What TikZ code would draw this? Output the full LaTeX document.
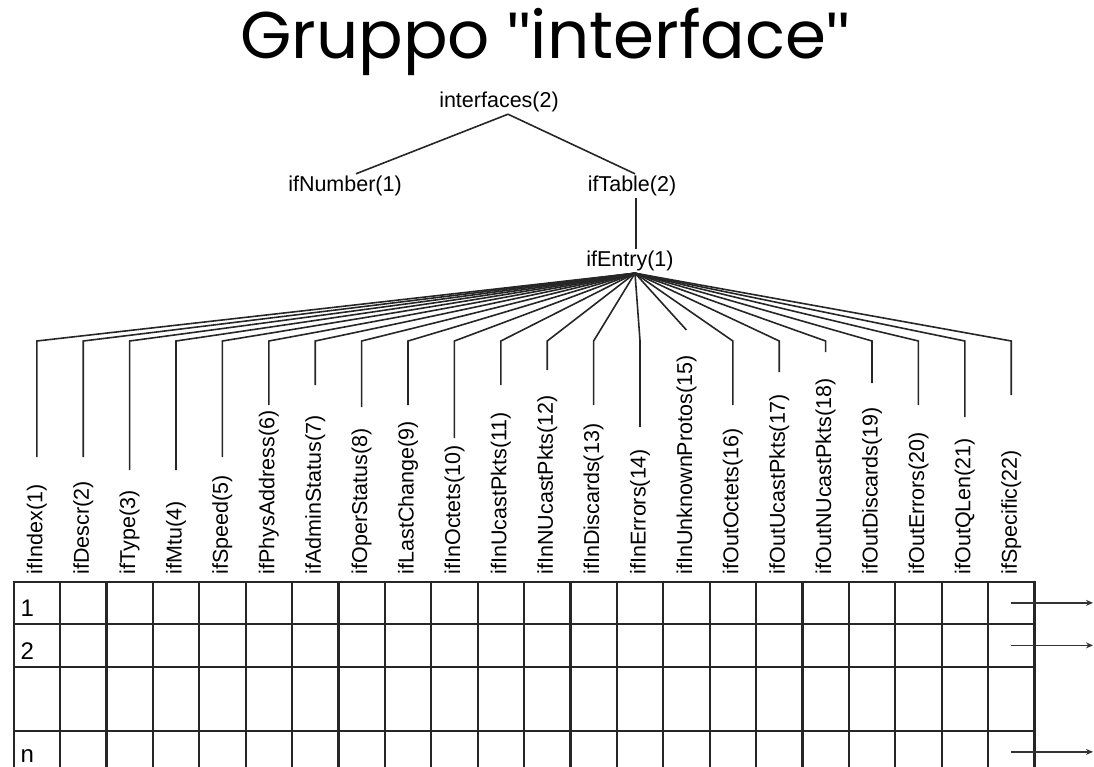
\documentclass[tikz,border=0pt]{standalone}
\usepackage{fontspec}
\setmainfont{Poppins}
\newfontfamily\lblfont{Liberation Sans}
\usetikzlibrary{matrix,arrows.meta}

\begin{document}
\begin{tikzpicture}[x=1pt,y=-1pt,
    font=\lblfont\fontsize{21.5pt}{24pt}\selectfont,
    lbl/.style={inner sep=2pt},
    rowlbl/.style={inner sep=0pt, anchor=base west, font=\lblfont\fontsize{24pt}{26pt}\selectfont},
    field/.style={rotate=90, anchor=west, inner sep=0pt},
    conn/.style={line width=1.6pt, black!85},
    ptr/.style={line width=1.6pt, black!80, -{Stealth[length=7pt,width=6pt]}},
    array/.style={matrix of nodes, nodes={draw, line width=2.2pt, black!85, minimum width=46.4pt, minimum height=42.5pt, inner sep=0pt},
      column sep=-2.2pt, row sep=-2.2pt, nodes in empty cells,
      row 3/.style={nodes={minimum height=64pt}}}]
    \useasboundingbox (0,0) rectangle (1094,767);

    \node[font=\fontsize{66pt}{70pt}\selectfont] (title) at (545,42)
      {Gruppo {\lblfont"}interface{\lblfont"}};

    % tree
    \node[lbl] (ifaces) at (499,102) {interfaces(2)};
    \node[lbl] (ifnum) at (345,186) {ifNumber(1)};
    \node[lbl] (iftab) at (632,186) {ifTable(2)};
    \node[lbl] (ifent) at (630,261) {ifEntry(1)};
    \draw[conn] ([xshift=9pt]ifaces.south) -- ([xshift=11pt]ifnum.north);
    \draw[conn] ([xshift=9pt]ifaces.south) -- ([xshift=3pt]iftab.north);
    \draw[conn] ([xshift=4pt]iftab.south) -- ([xshift=6pt]ifent.north);

    \matrix[array, anchor=north west] (array) at (9,577) {
    &&&&&&&&&&&&&&&&&&&&&\\
    &&&&&&&&&&&&&&&&&&&&&\\
    &&&&&&&&&&&&&&&&&&&&&\\
    &&&&&&&&&&&&&&&&&&&&&\\};

    \node[rowlbl] (r1) at ([shift={(8pt,-14pt)}]array-1-1.west) {1};
    \node[rowlbl] (r2) at ([shift={(8pt,-14pt)}]array-2-1.west) {2};
    \node[rowlbl] (rn) at ([shift={(8pt,-11pt)}]array-4-1.west) {n};

    % columns of ifEntry
    \coordinate (fan) at ([xshift=5pt]ifent.south);
    \foreach \i/\txt/\yb in {1/ifIndex(1)/457, 2/ifDescr(2)/457, 3/ifType(3)/470,
        4/ifMtu(4)/470, 5/ifSpeed(5)/457, 6/ifPhysAddress(6)/405, 7/ifAdminStatus(7)/385,
        8/ifOperStatus(8)/407, 9/ifLastChange(9)/405, 10/ifInOctets(10)/438,
        11/ifInUcastPkts(11)/385, 12/ifInNUcastPkts(12)/370, 13/ifInDiscards(13)/405,
        14/ifInErrors(14)/427, 15/ifInUnknownProtos(15)/330, 16/ifOutOctets(16)/405,
        17/ifOutUcastPkts(17)/372, 18/ifOutNUcastPkts(18)/352, 19/ifOutDiscards(19)/383,
        20/ifOutErrors(20)/405, 21/ifOutQLen(21)/417, 22/ifSpecific(22)/395} {
      \node[field] (f\i) at ([yshift=6pt]array-1-\i.north) {\txt};
      \pgfmathsetmacro\yk{min(341,\yb)}
      \draw[conn] (fan) -- (f\i.east |- 0,\yk) -- (f\i.east |- 0,\yb);
    }

    \coordinate (edge) at (1093,0);
    \foreach \r in {1,2,4}
      \draw[ptr] (array-\r-22.center) -- (array-\r-22.center -| edge);
\end{tikzpicture}
\end{document}
